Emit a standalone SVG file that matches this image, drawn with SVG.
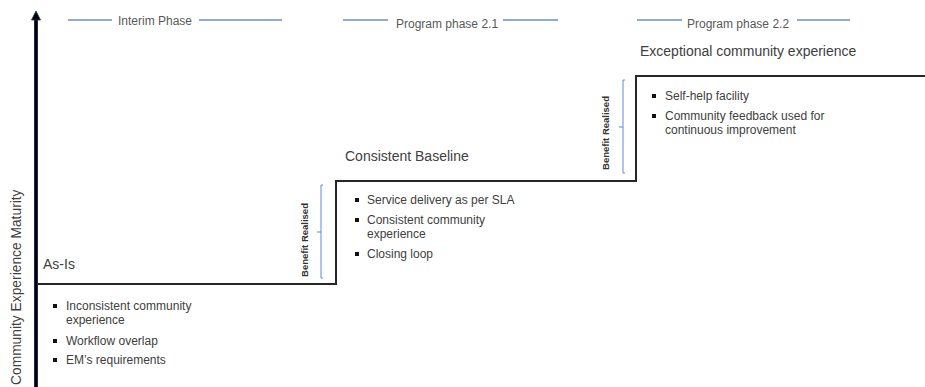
<svg xmlns="http://www.w3.org/2000/svg" width="925" height="387" viewBox="0 0 925 387">
<defs>
<style>
text{font-family:"Liberation Sans",Arial,sans-serif;fill:#404040}
.ph{font-size:12px;fill:#595959}
.phl{stroke:#8eaadb;stroke-width:2;fill:none}
.ttl{font-size:14px}
.bl{font-size:12px}
.br{stroke:#5b8bd6;stroke-width:1;fill:none}
.bt{font-size:9.5px;font-weight:bold;fill:#333}
.step{stroke:#262626;stroke-width:2;fill:none}
.sq{fill:#111}
</style>
</defs>
<rect width="925" height="387" fill="#fff"/>
<g id="axis">
<line x1="36" y1="387" x2="36" y2="16" stroke="#1f3864" stroke-width="4"/>
<line x1="36" y1="387" x2="36" y2="16" stroke="#000" stroke-width="2.4"/>
<path d="M31.5,20 L36,11 L40.5,20 Z" fill="#000" stroke="#1f3864" stroke-width="0.8"/>
<text class="ttl" transform="translate(21,385) rotate(-90)" style="font-size:13.8px">Community Experience Maturity</text>
</g>
<g id="connectors">
<path class="step" d="M37,284 H336 V181 H636 V76 H925"/>
</g>
<g id="phase-interim">
<line class="phl" x1="68" y1="20" x2="112" y2="20"/>
<text class="ph" x="118" y="25">Interim Phase</text>
<line class="phl" x1="199" y1="20" x2="282" y2="20"/>
</g>
<g id="phase-2-1">
<line class="phl" x1="343" y1="20" x2="388" y2="20"/>
<text class="ph" x="396" y="28">Program phase 2.1</text>
<line class="phl" x1="503" y1="20" x2="558" y2="20"/>
</g>
<g id="phase-2-2">
<line class="phl" x1="637" y1="20" x2="682" y2="20"/>
<text class="ph" x="687" y="28">Program phase 2.2</text>
<line class="phl" x1="797" y1="20" x2="850" y2="20"/>
</g>
<g id="as-is">
<text class="ttl" x="43" y="269">As-Is</text>
<rect class="sq" x="53" y="304" width="4" height="4"/>
<text class="bl" x="66" y="310">Inconsistent community</text>
<text class="bl" x="66" y="324">experience</text>
<rect class="sq" x="53" y="339" width="4" height="4"/>
<text class="bl" x="66" y="345">Workflow overlap</text>
<rect class="sq" x="53" y="358" width="4" height="4"/>
<text class="bl" x="66" y="364">EM’s requirements</text>
</g>
<g id="benefit-1">
<path class="br" d="M323,185 H321 V278 H323 M321,232 H317"/>
<text class="bt" transform="translate(308,240) rotate(-90)" text-anchor="middle">Benefit Realised</text>
</g>
<g id="consistent-baseline">
<text class="ttl" x="345" y="161">Consistent Baseline</text>
<rect class="sq" x="355" y="198" width="4" height="4"/>
<text class="bl" x="367" y="204">Service delivery as per SLA</text>
<rect class="sq" x="355" y="218" width="4" height="4"/>
<text class="bl" x="367" y="224">Consistent community</text>
<text class="bl" x="367" y="238">experience</text>
<rect class="sq" x="355" y="252" width="4" height="4"/>
<text class="bl" x="367" y="258">Closing loop</text>
</g>
<g id="benefit-2">
<path class="br" d="M625,80 H623 V173 H625 M623,127 H619"/>
<text class="bt" transform="translate(609,133) rotate(-90)" text-anchor="middle">Benefit Realised</text>
</g>
<g id="exceptional">
<text class="ttl" x="640" y="56">Exceptional community experience</text>
<rect class="sq" x="652" y="94" width="4" height="4"/>
<text class="bl" x="665" y="100">Self-help facility</text>
<rect class="sq" x="652" y="114" width="4" height="4"/>
<text class="bl" x="665" y="120">Community feedback used for</text>
<text class="bl" x="665" y="134">continuous improvement</text>
</g>
</svg>
